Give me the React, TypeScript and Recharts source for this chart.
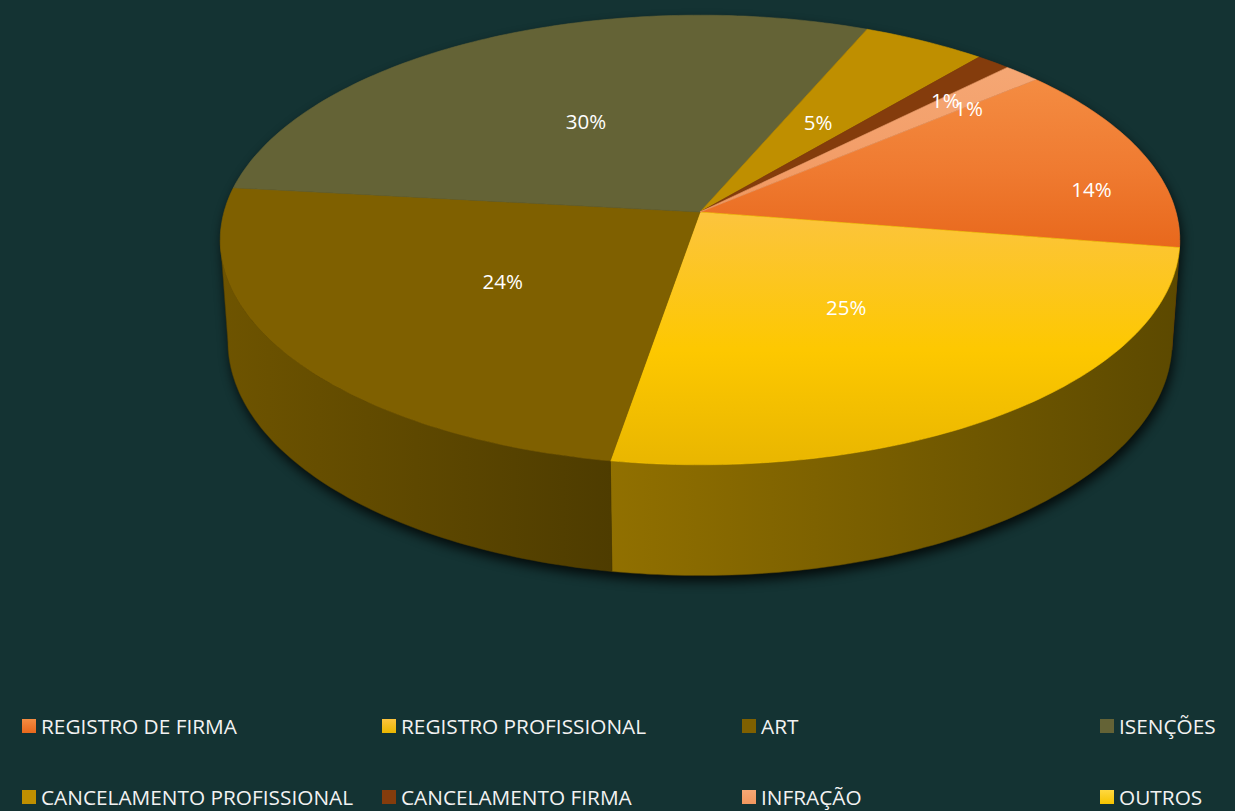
import React from 'react';
import { PieChart, Pie, Legend } from 'recharts';

const categories = [
  'REGISTRO DE FIRMA',
  'REGISTRO PROFISSIONAL',
  'ART',
  'ISENÇÕES',
  'CANCELAMENTO PROFISSIONAL',
  'CANCELAMENTO FIRMA',
  'INFRAÇÃO',
  'OUTROS',
];
const shares = [13.7, 25.1, 24.1, 29.6, 4.7, 1.3, 1.4, 0];

const data = categories.map((name, i) => ({ name, value: shares[i] }));

const BG = '#143333';
const FONT = '"Open Sans", "Noto Sans", sans-serif';

// top face colours: [top, middle, bottom]
const topColors = [
  ['#F48C42', '#EF7A30', '#E8681C'],
  ['#FCC43E', '#FDC800', '#E9B600'],
  ['#7F6000', '#7F6000', '#7F6000'],
  ['#646336', '#646336', '#646336'],
  ['#BF8F00', '#BF8F00', '#BF8F00'],
  ['#843C0C', '#843C0C', '#843C0C'],
  ['#F5A774', '#F39F6A', '#F1975E'],
  ['#FFD840', '#FCCE20', '#F6C400'],
];
// side wall colours: [left, right]
const wallColors = [
  ['#8A4412', '#6A320A'],
  ['#917000', '#5C4900'],
  ['#6E5400', '#4E3C00'],
  ['#4A4928', '#3A3920'],
  ['#7F5F00', '#5F4700'],
  ['#5A2808', '#441E06'],
  ['#A06A48', '#804F34'],
  ['#9A8000', '#7A6500'],
];

// excel moved a few labels off the default spot
const labelSpots: Record<number, { t: number; f: number }> = {
  0: { t: 0.67, f: 0.84 },
  5: { t: 1.2, f: 0.77 },
  6: { t: 1.1, f: 0.78 },
};

// simple perspective for the tilted disc
const TILT_SIN = 0.465;
const TILT_COS = 0.885;
const DIST = 7.11;
const THICK = 0.244;
const SIL = (Math.asin(TILT_COS / DIST) * 180) / Math.PI;
const SIL_LO = -180 + SIL;
const SIL_HI = -SIL;

function project(cx: number, cy: number, r: number, deg: number, frac: number, z: number) {
  const a = (deg * Math.PI) / 180;
  const X = frac * Math.cos(a);
  const Y = -frac * Math.sin(a);
  const depth = DIST - Y * TILT_COS - z * TILT_SIN;
  const k = (r * DIST) / depth;
  return [cx + X * k, cy + (Y * TILT_SIN - z * TILT_COS) * k];
}

function arc(cx: number, cy: number, r: number, from: number, to: number, z: number, out: number[][]) {
  const n = Math.max(2, Math.ceil(Math.abs(to - from)));
  for (let i = 0; i <= n; i++) {
    out.push(project(cx, cy, r, from + ((to - from) * i) / n, 1, z));
  }
}

const toPath = (pts: number[][]) =>
  'M' + pts.map((p) => `${p[0].toFixed(1)},${p[1].toFixed(1)}`).join('L') + 'Z';

function Defs() {
  return (
    <defs>
      {topColors.map((c, i) => (
        <linearGradient key={`t${i}`} id={`top-${i}`} x1="0" y1="0" x2="0" y2="1">
          <stop offset="0%" stopColor={c[0]} />
          <stop offset="55%" stopColor={c[1]} />
          <stop offset="100%" stopColor={c[2]} />
        </linearGradient>
      ))}
      {wallColors.map((c, i) => (
        <linearGradient key={`w${i}`} id={`wall-${i}`} x1="0" y1="0" x2="1" y2="0">
          <stop offset="0%" stopColor={c[0]} />
          <stop offset="100%" stopColor={c[1]} />
        </linearGradient>
      ))}
      <filter id="pie-shadow" x="-10%" y="-10%" width="120%" height="130%">
        <feGaussianBlur stdDeviation="6" />
      </filter>
    </defs>
  );
}

function renderWall(props: any) {
  const { cx, cy, outerRadius: r, startAngle, endAngle, index } = props;
  const lo = Math.min(startAngle, endAngle);
  const hi = Math.max(startAngle, endAngle);
  const parts: number[][] = [];
  for (const k of [-360, 0, 360]) {
    const a1 = Math.max(lo, SIL_LO + k);
    const a2 = Math.min(hi, SIL_HI + k);
    if (a2 > a1) parts.push([a1, a2]);
  }
  let shadow = null;
  if (index === 0) {
    const pts: number[][] = [];
    arc(cx, cy, r, SIL_HI, 360 + SIL_LO, 0, pts);
    arc(cx, cy, r, SIL_LO, SIL_HI, -THICK, pts);
    shadow = (
      <path
        d={toPath(pts)}
        fill="#000"
        opacity={0.8}
        transform="translate(2,6)"
        filter="url(#pie-shadow)"
      />
    );
  }
  return (
    <g key={`wall-${index}`}>
      {index === 0 && <Defs />}
      {shadow}
      {parts.map(([a1, a2], j) => {
        const pts: number[][] = [];
        arc(cx, cy, r, a1, a2, 0, pts);
        arc(cx, cy, r, a2, a1, -THICK, pts);
        return (
          <path
            key={j}
            d={toPath(pts)}
            fill={`url(#wall-${index})`}
            stroke={wallColors[index][1]}
            strokeWidth={0.5}
          />
        );
      })}
    </g>
  );
}

function renderTop(props: any) {
  const { cx, cy, outerRadius: r, startAngle, endAngle, index, value } = props;
  if (!value) return null;
  const pts: number[][] = [[cx, cy]];
  arc(cx, cy, r, startAngle, endAngle, 0, pts);
  return (
    <path
      key={`top-${index}`}
      d={toPath(pts)}
      fill={`url(#top-${index})`}
      stroke={topColors[index][1]}
      strokeWidth={0.6}
      strokeLinejoin="round"
    />
  );
}

function renderText(props: any) {
  const { cx, cy, outerRadius: r, startAngle, endAngle, index, value, percent } = props;
  if (!value) return null;
  const spot = labelSpots[index] ?? { t: 0.5, f: 0.5 };
  const a = startAngle + (endAngle - startAngle) * spot.t;
  const [x, y] = project(cx, cy, r, a, spot.f, 0);
  return (
    <text
      key={`txt-${index}`}
      x={x}
      y={y}
      textAnchor="middle"
      dominantBaseline="central"
      fill="#FFFFFF"
      fontSize={20.5}
      fontFamily={FONT}
    >
      {`${Math.round(percent * 100)}%`}
    </text>
  );
}

const colLeft = [22, 382, 742, 1100];

function renderLegend(props: any) {
  const seen = new Set<string>();
  const items = (props.payload || []).filter((p: any) => {
    if (seen.has(p.value)) return false;
    seen.add(p.value);
    return true;
  });
  return (
    <div style={{ position: 'relative', width: 1235, height: 111 }}>
      {items.map((p: any) => {
        const i = categories.indexOf(p.value);
        const col = i % 4;
        const row = Math.floor(i / 4);
        const c = topColors[i];
        return (
          <div
            key={p.value}
            style={{
              position: 'absolute',
              left: colLeft[col],
              top: 14 + row * 71,
              display: 'flex',
              alignItems: 'center',
              height: 24,
              whiteSpace: 'nowrap',
            }}
          >
            <span
              style={{
                display: 'inline-block',
                width: 14,
                height: 14,
                marginRight: 5,
                background: `linear-gradient(${c[0]}, ${c[2]})`,
              }}
            />
            <span style={{ color: '#F2F2F2', fontSize: 20.8, fontFamily: FONT, lineHeight: '24px' }}>
              {p.value}
            </span>
          </div>
        );
      })}
    </div>
  );
}

export default function App() {
  const common = {
    data,
    dataKey: 'value',
    nameKey: 'name',
    cx: 700,
    cy: 212,
    outerRadius: 476,
    startAngle: 40.3,
    endAngle: -319.7,
    fill: 'transparent',
    stroke: 'none',
    labelLine: false,
    isAnimationActive: false,
  };
  return (
    <div style={{ width: 1235, height: 811, background: BG, position: 'relative', overflow: 'hidden' }}>
      <style>{'body{margin:0}'}</style>
      <PieChart width={1235} height={811} margin={{ top: 0, right: 0, bottom: 0, left: 0 }}>
        <Pie {...common} label={renderWall} legendType="square" />
        <Pie {...common} label={renderTop} legendType="none" />
        <Pie {...common} label={renderText} legendType="none" />
        <Legend
          content={renderLegend}
          wrapperStyle={{ left: 0, top: 700, width: 1235, height: 111, bottom: 'auto' }}
        />
      </PieChart>
    </div>
  );
}
